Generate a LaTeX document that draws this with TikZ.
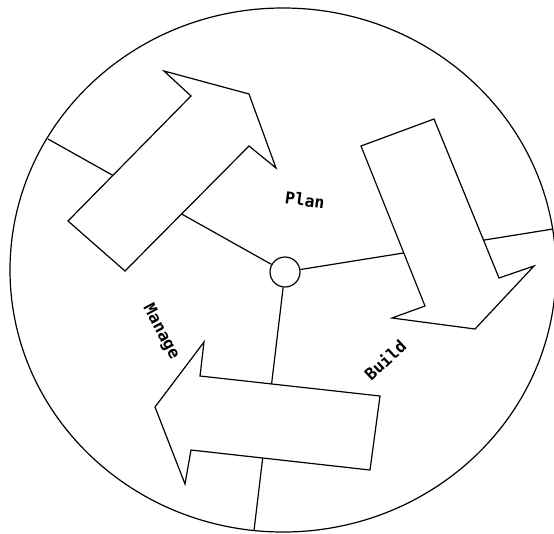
\documentclass[tikz,border=0pt]{standalone}
\usepackage{fontspec}
\newfontfamily\labfont{DejaVu Sans Mono}
\tikzset{
  outline/.style={draw=black, line width=1.2pt, line join=miter},
  arrowshape/.style={outline, fill=white},
  spoke/.style={draw=black, line width=1.2pt},
  lbl/.style={font=\labfont\bfseries\fontsize{16.5}{17}\selectfont, inner sep=0pt}
}
\begin{document}
\begin{tikzpicture}[x=1pt,y=-1pt]
\useasboundingbox (0,0) rectangle (554,533);
\begin{scope}
\clip (0,0) rectangle (554,533);
% outer circle
\draw[outline] (283,270) ellipse [x radius=273pt, y radius=262pt];
% hub
\node[circle, draw, line width=1.2pt, minimum size=30pt, inner sep=0pt] (hub) at (285,272) {};
\coordinate (eL) at (48,139);
\coordinate (eR) at (553,229);
\coordinate (eB) at (254,530.5);
\draw[spoke] (hub) -- (eL);
\draw[spoke] (hub) -- (eR);
\draw[spoke] (hub) -- (eB);
% Plan arrow
\path[arrowshape] (68,221) -- (125,271) -- (249,146) -- (276,168) -- (249,94)
  -- (164,71) -- (191,96) -- cycle;
% Build arrow
\path[arrowshape] (361,146) -- (434,119) -- (499,278) -- (534,266) -- (475,329)
  -- (392,318) -- (425,306) -- cycle;
% Manage arrow
\path[arrowshape] (380,396) -- (370,470) -- (191,450) -- (185,484) -- (155,407)
  -- (204,342) -- (200,376) -- cycle;
\end{scope}
% labels
\node[lbl, rotate=-8] (plan) at (305,200) {Plan};
\node[lbl, rotate=-62] (manage) at (161,332) {Manage};
\node[lbl, rotate=43] (build) at (385,360) {Build};
\end{tikzpicture}
\end{document}
